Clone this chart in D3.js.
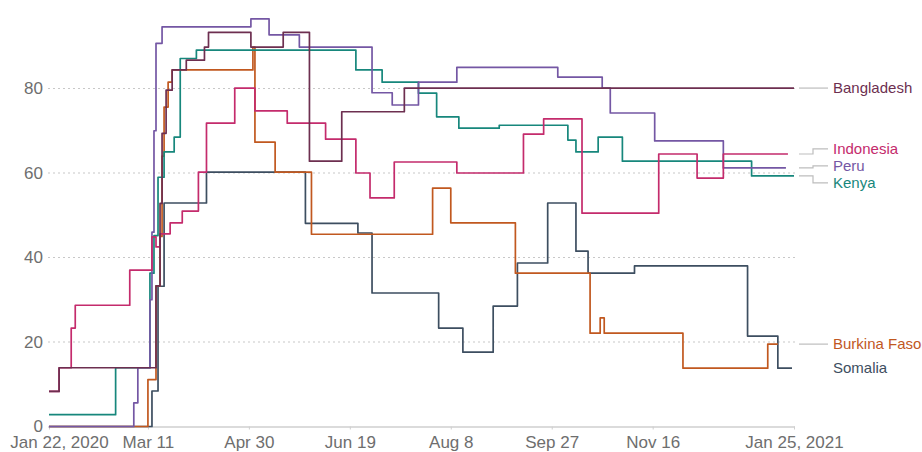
<!DOCTYPE html>
<html>
<head>
<meta charset="utf-8">
<script src="https://cdn.jsdelivr.net/npm/d3@7"></script>
<style>
  html, body { margin: 0; padding: 0; background: #fff; }
  svg { display: block; font-family: "Liberation Sans", Arial, sans-serif; }
</style>
</head>
<body>
<svg id="chart"></svg>
<script>
// Stringency-style step lines, Jan 2020 → Jan 2021, six countries

// ── Data: [date, value] change points per country ─────────────────────────
const bangladesh = [
    ['2020-01-22', 8.3], ['2020-01-27', 13.9], ['2020-03-15', 33.3], ['2020-03-17', 52.8],
    ['2020-03-18', 69.4], ['2020-03-20', 79.6], ['2020-03-23', 84.4], ['2020-03-30', 86.7],
    ['2020-04-08', 89.8], ['2020-04-10', 93.3], ['2020-05-01', 89.8], ['2020-05-17', 93.3],
    ['2020-05-30', 62.8], ['2020-06-15', 74.5], ['2020-07-16', 80.1], ['2021-01-25', 80.1],
];
const indonesia = [
    ['2020-01-22', 8.3], ['2020-01-27', 13.9], ['2020-02-02', 23.3], ['2020-02-04', 28.7],
    ['2020-03-02', 37.0], ['2020-03-13', 44.9], ['2020-03-15', 42.5], ['2020-03-17', 45.6],
    ['2020-03-22', 48.2], ['2020-03-28', 51.0], ['2020-04-05', 60.2], ['2020-04-09', 71.8],
    ['2020-04-23', 80.1], ['2020-05-03', 74.7], ['2020-05-19', 71.8], ['2020-06-07', 68.0],
    ['2020-06-22', 60.0], ['2020-06-29', 54.1], ['2020-07-11', 62.6], ['2020-08-11', 60.0],
    ['2020-09-13', 69.2], ['2020-09-23', 72.8], ['2020-10-12', 50.5], ['2020-11-19', 64.5],
    ['2020-12-08', 58.8], ['2020-12-21', 64.5], ['2021-01-22', 64.5],
];
const peru = [
    ['2020-01-22', 0], ['2020-03-04', 5.6], ['2020-03-06', 13.9], ['2020-03-12', 30.0],
    ['2020-03-13', 46.0], ['2020-03-14', 70.0], ['2020-03-15', 90.7], ['2020-03-18', 94.6],
    ['2020-05-01', 96.5], ['2020-05-10', 92.7], ['2020-05-25', 89.8], ['2020-06-30', 79.0],
    ['2020-07-10', 76.1], ['2020-07-23', 81.5], ['2020-08-11', 85.0], ['2020-09-30', 82.7],
    ['2020-10-22', 80.1], ['2020-10-26', 74.2], ['2020-11-17', 67.6], ['2020-12-21', 61.2],
    ['2021-01-21', 61.2],
];
const kenya = [
    ['2020-01-22', 2.8], ['2020-02-24', 13.9], ['2020-03-12', 36.3], ['2020-03-14', 45.2],
    ['2020-03-16', 59.0], ['2020-03-19', 65.0], ['2020-03-24', 68.5], ['2020-03-27', 87.1],
    ['2020-04-04', 89.1], ['2020-06-22', 84.4], ['2020-07-05', 81.5], ['2020-07-23', 78.9],
    ['2020-08-01', 73.3], ['2020-08-12', 70.6], ['2020-09-01', 71.3], ['2020-10-05', 67.8],
    ['2020-10-09', 65.0], ['2020-10-20', 68.5], ['2020-11-01', 62.8], ['2021-01-04', 59.3],
    ['2021-01-25', 59.3],
];
const burkinaFaso = [
    ['2020-01-22', 0], ['2020-03-11', 11.1], ['2020-03-15', 33.3], ['2020-03-17', 45.0],
    ['2020-03-18', 64.0], ['2020-03-19', 75.6], ['2020-03-21', 81.5], ['2020-03-23', 84.4],
    ['2020-05-02', 89.8], ['2020-05-03', 67.3], ['2020-05-13', 60.2], ['2020-05-31', 45.5],
    ['2020-07-30', 56.4], ['2020-08-08', 48.2], ['2020-09-09', 36.3], ['2020-10-16', 22.1],
    ['2020-10-21', 25.7], ['2020-10-23', 22.1], ['2020-12-01', 13.8], ['2021-01-12', 19.5],
    ['2021-01-17', 19.5],
];
const somalia = [
    ['2020-01-22', 0], ['2020-03-13', 8.4], ['2020-03-16', 33.2], ['2020-03-19', 52.9],
    ['2020-04-09', 60.2], ['2020-05-28', 48.1], ['2020-06-23', 45.8], ['2020-06-30', 31.6],
    ['2020-08-02', 23.3], ['2020-08-14', 17.6], ['2020-08-29', 28.5], ['2020-09-10', 38.7],
    ['2020-09-25', 52.9], ['2020-10-09', 41.5], ['2020-10-15', 36.3], ['2020-11-07', 38.0],
    ['2021-01-02', 21.4], ['2021-01-17', 13.8], ['2021-01-24', 13.8],
];

const xTicks = ['2020-01-22', '2020-03-11', '2020-04-30', '2020-06-19', '2020-08-08', '2020-09-27', '2020-11-16', '2021-01-25'];
const xTickLabels = ['Jan 22, 2020', 'Mar 11', 'Apr 30', 'Jun 19', 'Aug 8', 'Sep 27', 'Nov 16', 'Jan 25, 2021'];
const yTicks = [0, 20, 40, 60, 80];

const SERIES = [
    { name: 'Somalia',      color: '#3d4e60', data: somalia,     leader: false },
    { name: 'Burkina Faso', color: '#c1581f', data: burkinaFaso, leader: true },
    { name: 'Kenya',        color: '#17877c', data: kenya,       leader: true },
    { name: 'Peru',         color: '#7457a4', data: peru,        leader: true },
    { name: 'Indonesia',    color: '#c42b6c', data: indonesia,   leader: true },
    { name: 'Bangladesh',   color: '#6d2f50', data: bangladesh,  leader: true },
];

// ── Layout ────────────────────────────────────────────────────────────────
const W = 922, H = 452;
const MARGIN = { top: 4, right: 128, bottom: 25.5, left: 49 };
const iW = W - MARGIN.left - MARGIN.right;
const iH = H - MARGIN.top - MARGIN.bottom;

const parse = d3.utcParse('%Y-%m-%d');

const svg = d3.select('#chart').attr('width', W).attr('height', H);
const g = svg.append('g').attr('transform', `translate(${MARGIN.left},${MARGIN.top})`);

const x = d3.scaleUtc()
    .domain([parse(xTicks[0]), parse(xTicks[xTicks.length - 1])])
    .range([0, iW]);
const y = d3.scaleLinear().domain([0, 100]).range([iH, 0]);

// Grid (dotted) + y labels
g.append('g')
    .selectAll('line')
    .data(yTicks.filter(v => v > 0))
    .join('line')
    .attr('x1', -1).attr('x2', iW + 1)
    .attr('y1', d => y(d)).attr('y2', d => y(d))
    .attr('stroke', '#c8c8c8')
    .attr('stroke-width', 1.2)
    .attr('stroke-dasharray', '2,3');

const yAxisG = g.append('g')
    .call(d3.axisLeft(y).tickValues(yTicks).tickSize(0).tickPadding(6));
yAxisG.select('.domain').remove();
yAxisG.selectAll('text')
    .attr('fill', '#6e6e6e')
    .attr('font-size', '17px')
    .attr('font-family', '"Liberation Sans", Arial, sans-serif');

// X axis
const xAxisG = g.append('g')
    .attr('transform', `translate(0,${iH})`)
    .call(d3.axisBottom(x)
        .tickValues(xTicks.map(parse))
        .tickFormat((d, i) => xTickLabels[i])
        .tickSize(3)
        .tickSizeOuter(0)
        .tickPadding(6));
xAxisG.select('.domain').attr('stroke', '#cfcfcf').attr('stroke-width', 1.6)
    .attr('d', `M-1,0.5H${iW + 1}`);
xAxisG.selectAll('.tick line').attr('stroke', '#cfcfcf');
xAxisG.selectAll('text')
    .attr('fill', '#6e6e6e')
    .attr('font-size', '17px')
    .attr('font-family', '"Liberation Sans", Arial, sans-serif');
// first label sits a little to the right of its tick
xAxisG.selectAll('.tick').filter((d, i) => i === 0).select('text').attr('dx', 10);

// ── Lines ─────────────────────────────────────────────────────────────────
const line = d3.line()
    .x(d => x(parse(d[0])))
    .y(d => y(d[1]))
    .curve(d3.curveStepAfter);

g.append('g')
    .selectAll('path')
    .data(SERIES)
    .join('path')
    .attr('fill', 'none')
    .attr('stroke', s => s.color)
    .attr('stroke-width', 1.7)
    .attr('stroke-linejoin', 'round')
    .attr('d', s => line(s.data));

// ── End labels with simple collision spread ───────────────────────────────
const GAP = 17;
const ends = SERIES.map(s => ({ s, y: y(s.data[s.data.length - 1][1]) }))
    .sort((a, b) => a.y - b.y);

let clusters = ends.map(e => ({ items: [e], mean: e.y }));
let merged = true;
while (merged) {
    merged = false;
    for (let i = 0; i < clusters.length - 1; i++) {
        const a = clusters[i], b = clusters[i + 1];
        const aBottom = a.mean + (a.items.length - 1) * GAP / 2;
        const bTop = b.mean - (b.items.length - 1) * GAP / 2;
        if (bTop - aBottom < GAP) {
            const items = a.items.concat(b.items);
            clusters.splice(i, 2, { items, mean: d3.mean(items, e => e.y) });
            merged = true;
            break;
        }
    }
}
clusters.forEach(c => c.items.forEach((e, k) => {
    e.ly = c.mean + (k - (c.items.length - 1) / 2) * GAP;
}));

const lx0 = iW + 5, lElbow = iW + 19, lx1 = iW + 34;
const labG = g.append('g');

labG.selectAll('path')
    .data(ends.filter(e => e.s.leader))
    .join('path')
    .attr('fill', 'none')
    .attr('stroke', '#bdbdbd')
    .attr('stroke-width', 1.2)
    .attr('d', e => `M${lx0},${e.y}H${lElbow}V${e.ly}H${lx1}`);

labG.selectAll('text')
    .data(ends)
    .join('text')
    .attr('x', lx1 + 5)
    .attr('y', e => e.ly)
    .attr('dy', '0.35em')
    .attr('fill', e => e.s.color)
    .attr('font-size', '15px')
    .text(e => e.s.name);
</script>
</body>
</html>
